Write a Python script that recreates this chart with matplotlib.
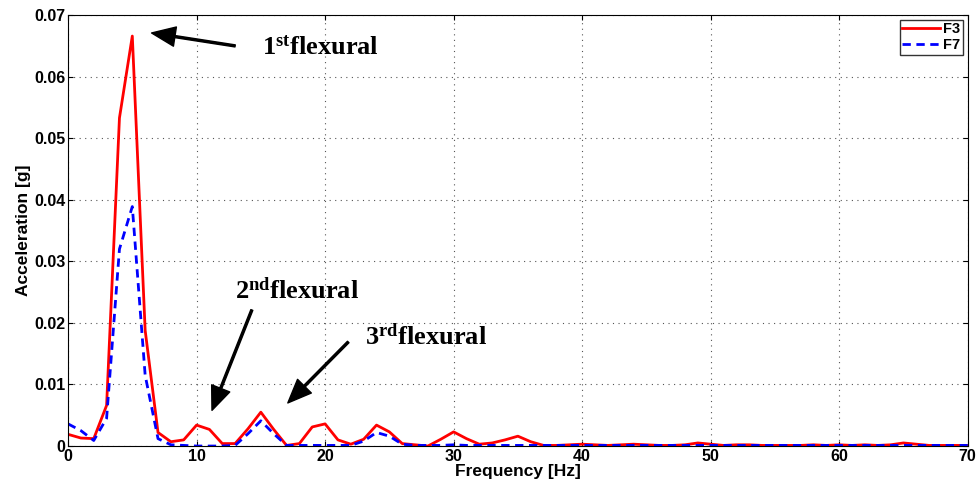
import matplotlib.pyplot as plt

plt.rcParams['font.family'] = 'Liberation Sans'
plt.rcParams['font.weight'] = 'bold'
plt.rcParams['mathtext.fontset'] = 'custom'
plt.rcParams['mathtext.rm'] = 'Liberation Serif:bold'
plt.rcParams['mathtext.bf'] = 'Liberation Serif:bold'

# frequency bins, 1 Hz apart
freq = list(range(0, 71))

f3 = [0.0019, 0.0013, 0.0012, 0.0066, 0.0533, 0.0666, 0.0188, 0.0022, 0.0007, 0.0010,
      0.0034, 0.0027, 0.0004, 0.0004, 0.0028, 0.0055, 0.0027, 0.0001, 0.0004, 0.0031,
      0.0036, 0.0010, 0.0003, 0.0011, 0.0034, 0.0023, 0.0004, 0.0002, 0.0000, 0.0011,
      0.0023, 0.0012, 0.0003, 0.0005, 0.0010, 0.0016, 0.0007, 0.0001, 0.0001, 0.0002,
      0.0003, 0.0002, 0.0001, 0.0002, 0.0003, 0.0002, 0.0001, 0.0001, 0.0002, 0.0005,
      0.0003, 0.0001, 0.0002, 0.0002, 0.0001, 0.0001, 0.0001, 0.0001, 0.0002, 0.0001,
      0.0002, 0.0001, 0.0002, 0.0001, 0.0002, 0.0005, 0.0003, 0.0001, 0.0001, 0.0001,
      0.0001]

f7 = [0.0036, 0.0025, 0.0009, 0.0045, 0.0320, 0.0389, 0.0115, 0.0012, 0.0002, 0.0001,
      0.0000, 0.0000, 0.0000, 0.0001, 0.0020, 0.0041, 0.0020, 0.0001, 0.0001, 0.0001,
      0.0001, 0.0001, 0.0001, 0.0008, 0.0022, 0.0016, 0.0003, 0.0001, 0.0001, 0.0001,
      0.0002, 0.0001, 0.0001, 0.0001, 0.0001, 0.0001, 0.0001, 0.0001, 0.0001, 0.0001,
      0.0001, 0.0001, 0.0001, 0.0001, 0.0001, 0.0001, 0.0001, 0.0001, 0.0001, 0.0001,
      0.0001, 0.0001, 0.0001, 0.0001, 0.0001, 0.0001, 0.0001, 0.0001, 0.0001, 0.0001,
      0.0001, 0.0001, 0.0001, 0.0001, 0.0001, 0.0001, 0.0001, 0.0001, 0.0001, 0.0001,
      0.0001]

xticks = [0, 10, 20, 30, 40, 50, 60, 70]
yticks = [0, 0.01, 0.02, 0.03, 0.04, 0.05, 0.06, 0.07]
ytick_labels = ['0', '0.01', '0.02', '0.03', '0.04', '0.05', '0.06', '0.07']

fig = plt.figure(figsize=(9.79, 4.88), dpi=100)
ax = fig.add_axes([0.0695, 0.086, 0.919, 0.883])

ax.plot(freq, f3, color='red', lw=2, label='F3')
ax.plot(freq, f7, color='blue', lw=2, ls=(0, (3, 2)), label='F7')

ax.set_xlim(0, 70)
ax.set_ylim(0, 0.07)
ax.set_xticks(xticks)
ax.set_yticks(yticks)
ax.set_yticklabels(ytick_labels)
ax.tick_params(direction='in', top=True, right=True, labelsize=11.5, pad=2)
ax.grid(True, ls=(0, (1, 4)), color='#555555', lw=0.8)
ax.set_xlabel('Frequency [Hz]', fontsize=12.5, fontweight='bold', labelpad=0)
ax.set_ylabel('Acceleration [g]', fontsize=12.5, fontweight='bold', labelpad=2)

leg = ax.legend(loc='upper right', fontsize=10.5, fancybox=False, handlelength=2.6,
                borderpad=0.2, labelspacing=0.1, handletextpad=0.2, borderaxespad=0.3)
leg.get_frame().set_edgecolor('black')
leg.get_frame().set_linewidth(1)

arrow = dict(facecolor='black', edgecolor='black', width=1.5, headwidth=14, headlength=17, shrink=0)
ax.annotate('', xy=(6.5, 0.0671), xytext=(13.0, 0.065), arrowprops=arrow)
ax.annotate('', xy=(11.2, 0.0058), xytext=(14.3, 0.0221), arrowprops=arrow)
ax.annotate('', xy=(17.1, 0.0070), xytext=(21.8, 0.0169), arrowprops=arrow)

ax.text(15.1, 0.0648, r'$\mathbf{1^{st}flexural}$', fontsize=19, va='center')
ax.text(13.0, 0.0252, r'$\mathbf{2^{nd}flexural}$', fontsize=19, va='center')
ax.text(23.1, 0.0177, r'$\mathbf{3^{rd}flexural}$', fontsize=19, va='center')

fig.savefig('out.png', dpi=100)
